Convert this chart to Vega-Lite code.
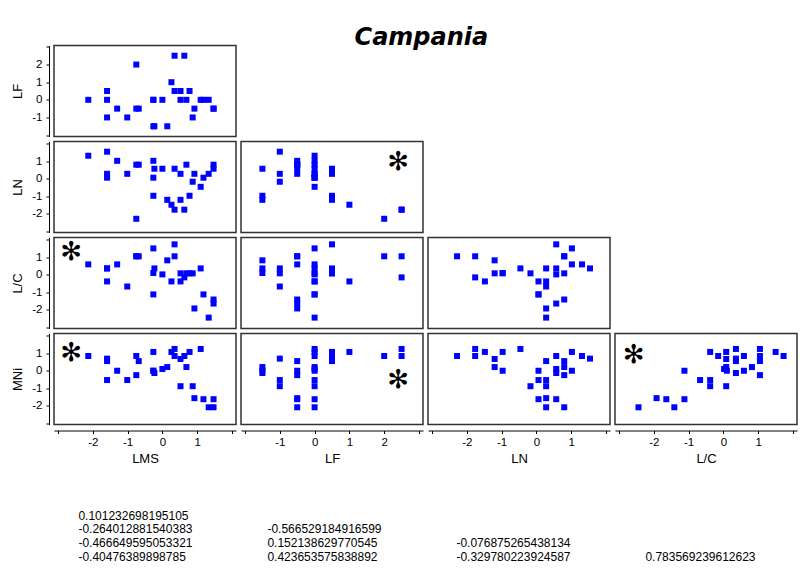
{
  "$schema": "https://vega.github.io/schema/vega-lite/v6.json",
  "background": "white",
  "padding": {"left": 11, "top": 25.5, "right": 2, "bottom": 2},
  "title": {"text": "Campania", "font": "DejaVu Sans", "fontSize": 24, "fontStyle": "italic", "fontWeight": "bold", "color": "#000", "anchor": "middle", "offset": -5.5, "dx": 17},
  "datasets": {
    "obs": [
      {"LMS": -2.13, "LF": 0, "LN": 1.31, "LC": 0.59, "MNi": 0.84},
      {"LMS": -1.59, "LF": -1, "LN": 1.54, "LC": 0.36, "MNi": 0.69},
      {"LMS": -1.59, "LF": 0.5, "LN": 0.28, "LC": 0.36, "MNi": 0.55},
      {"LMS": -1.59, "LF": 0, "LN": 0.06, "LC": -0.38, "MNi": -0.53},
      {"LMS": -1.30, "LF": -0.5, "LN": 1.02, "LC": 0.59, "MNi": 0},
      {"LMS": -1.01, "LF": -1, "LN": 0.28, "LC": -0.67, "MNi": -0.53},
      {"LMS": -0.75, "LF": 2, "LN": -2.28, "LC": 1.05, "MNi": 0.84},
      {"LMS": -0.75, "LF": -0.5, "LN": 0.8, "LC": 1.05, "MNi": -0.25},
      {"LMS": -0.68, "LF": -0.5, "LN": 0.8, "LC": 1.05, "MNi": 0.55},
      {"LMS": -0.26, "LF": 0, "LN": 1.02, "LC": 1.5, "MNi": 1.07},
      {"LMS": -0.26, "LF": 0, "LN": 0.06, "LC": -1.12, "MNi": 0},
      {"LMS": -0.23, "LF": -1.5, "LN": 0.57, "LC": 0.36, "MNi": -0.13},
      {"LMS": -0.26, "LF": -1.5, "LN": -0.97, "LC": 0.1, "MNi": 0},
      {"LMS": 0, "LF": 0, "LN": 0.57, "LC": 0.02, "MNi": 0.1},
      {"LMS": 0.14, "LF": -1.5, "LN": -1.2, "LC": 0.82, "MNi": 0.21},
      {"LMS": 0.26, "LF": 1, "LN": -1.48, "LC": -0.38, "MNi": 1.07},
      {"LMS": 0.35, "LF": 2.5, "LN": -1.76, "LC": 1.05, "MNi": 1.24},
      {"LMS": 0.35, "LF": 0.5, "LN": 0.57, "LC": 1.73, "MNi": 0.84},
      {"LMS": 0.52, "LF": 0.5, "LN": -1.2, "LC": 0.08, "MNi": 0.67},
      {"LMS": 0.52, "LF": 0, "LN": 0.28, "LC": -0.38, "MNi": -0.88},
      {"LMS": 0.63, "LF": 2.5, "LN": -1.76, "LC": -0.15, "MNi": 0.84},
      {"LMS": 0.69, "LF": 0, "LN": 0.8, "LC": 0.08, "MNi": 0.21},
      {"LMS": 0.78, "LF": 0.5, "LN": -0.97, "LC": 0.08, "MNi": 1.07},
      {"LMS": 0.87, "LF": -1, "LN": -0.17, "LC": 0.08, "MNi": -0.88},
      {"LMS": 0.92, "LF": -0.5, "LN": 0.28, "LC": -1.92, "MNi": -1.56},
      {"LMS": 1.10, "LF": 0, "LN": -0.46, "LC": 0.36, "MNi": 1.24},
      {"LMS": 1.18, "LF": 0, "LN": 0.06, "LC": -1.12, "MNi": -1.62},
      {"LMS": 1.33, "LF": 0, "LN": 0.28, "LC": -2.44, "MNi": -2.08},
      {"LMS": 1.47, "LF": -0.5, "LN": 0.57, "LC": -1.64, "MNi": -1.62},
      {"LMS": 1.47, "LF": -0.5, "LN": 0.8, "LC": -1.41, "MNi": -2.08}
    ],
    "stars": [
      {"pair": "LN-LF", "sx": 2.4, "sy": 0.95},
      {"pair": "LC-LMS", "sx": -2.62, "sy": 1.29},
      {"pair": "MNi-LMS", "sx": -2.62, "sy": 1.0},
      {"pair": "MNi-LF", "sx": 2.4, "sy": -0.51},
      {"pair": "MNi-LC", "sx": -2.58, "sy": 0.91}
    ],
    "corr": [
      {"col": 1, "row": 1, "r": "0.101232698195105"},
      {"col": 1, "row": 2, "r": "-0.264012881540383"},
      {"col": 1, "row": 3, "r": "-0.466649595053321"},
      {"col": 1, "row": 4, "r": "-0.40476389898785"},
      {"col": 2, "row": 2, "r": "-0.566529184916599"},
      {"col": 2, "row": 3, "r": "0.152138629770545"},
      {"col": 2, "row": 4, "r": "0.423653575838892"},
      {"col": 3, "row": 3, "r": "-0.076875265438134"},
      {"col": 3, "row": 4, "r": "-0.329780223924587"},
      {"col": 4, "row": 4, "r": "0.783569239612623"}
    ]
  },
  "vconcat": [
    {
      "spacing": 3,
      "vconcat": [
        {"spacing": 3, "hconcat": [
          {"width": 182, "height": 91, "data": {"name": "obs"},
           "mark": {"type": "square", "size": 36, "color": "#0000ff", "opacity": 1},
           "encoding": {
             "x": {"field": "LMS", "type": "quantitative", "scale": {"domain": [-3.115, 2.115], "nice": false, "zero": false}, "axis": null},
             "y": {"field": "LF", "type": "quantitative", "scale": {"domain": [-2.08, 3.08], "nice": false, "zero": false},
                   "axis": {"title": "LF", "values": [-2, -1, 0, 1, 2, 3], "labelOverlap": false, "labelExpr": "datum.value < -1.5 || datum.value > 2.5 ? '' : '' + datum.value", "labelFontSize": {"condition": {"test": "datum.value < -1.5 || datum.value > 2.5", "value": 0}, "value": 11.5}}}
           }}
        ]},
        {"spacing": 3, "hconcat": [
          {"width": 182, "height": 91, "data": {"name": "obs"},
           "mark": {"type": "square", "size": 36, "color": "#0000ff", "opacity": 1},
           "encoding": {
             "x": {"field": "LMS", "type": "quantitative", "scale": {"domain": [-3.115, 2.115], "nice": false, "zero": false}, "axis": null},
             "y": {"field": "LN", "type": "quantitative", "scale": {"domain": [-3.06, 2.12], "nice": false, "zero": false},
                   "axis": {"title": "LN", "values": [-3, -2, -1, 0, 1, 2], "labelOverlap": false, "labelExpr": "datum.value < -2.5 || datum.value > 1.5 ? '' : '' + datum.value", "labelFontSize": {"condition": {"test": "datum.value < -2.5 || datum.value > 1.5", "value": 0}, "value": 11.5}}}
           }},
          {"width": 182, "height": 91,
           "layer": [
             {"data": {"name": "obs"},
              "mark": {"type": "square", "size": 36, "color": "#0000ff", "opacity": 1},
              "encoding": {
                "x": {"field": "LF", "type": "quantitative", "scale": {"domain": [-2.115, 3.115], "nice": false, "zero": false}, "axis": null},
                "y": {"field": "LN", "type": "quantitative", "scale": {"domain": [-3.06, 2.12], "nice": false, "zero": false}, "axis": null}
              }},
             {"data": {"name": "stars"}, "transform": [{"filter": "datum.pair === 'LN-LF'"}],
              "mark": {"type": "text", "text": "✻", "font": "DejaVu Sans", "fontSize": 26, "color": "#000", "baseline": "middle", "align": "center"},
              "encoding": {
                "x": {"field": "sx", "type": "quantitative", "axis": null},
                "y": {"field": "sy", "type": "quantitative", "axis": null}
              }}
           ]}
        ]},
        {"spacing": 3, "hconcat": [
          {"width": 182, "height": 91,
           "layer": [
             {"data": {"name": "obs"},
              "mark": {"type": "square", "size": 36, "color": "#0000ff", "opacity": 1},
              "encoding": {
                "x": {"field": "LMS", "type": "quantitative", "scale": {"domain": [-3.115, 2.115], "nice": false, "zero": false}, "axis": null},
                "y": {"field": "LC", "type": "quantitative", "scale": {"domain": [-3.06, 2.12], "nice": false, "zero": false},
                      "axis": {"title": "L/C", "values": [-3, -2, -1, 0, 1, 2], "labelOverlap": false, "labelExpr": "datum.value < -2.5 || datum.value > 1.5 ? '' : '' + datum.value", "labelFontSize": {"condition": {"test": "datum.value < -2.5 || datum.value > 1.5", "value": 0}, "value": 11.5}}}
              }},
             {"data": {"name": "stars"}, "transform": [{"filter": "datum.pair === 'LC-LMS'"}],
              "mark": {"type": "text", "text": "✻", "font": "DejaVu Sans", "fontSize": 26, "color": "#000", "baseline": "middle", "align": "center"},
              "encoding": {
                "x": {"field": "sx", "type": "quantitative", "axis": null},
                "y": {"field": "sy", "type": "quantitative",
                      "axis": {"title": "L/C", "values": [-3, -2, -1, 0, 1, 2], "labelOverlap": false, "labelExpr": "datum.value < -2.5 || datum.value > 1.5 ? '' : '' + datum.value", "labelFontSize": {"condition": {"test": "datum.value < -2.5 || datum.value > 1.5", "value": 0}, "value": 11.5}}}
              }}
           ]},
          {"width": 182, "height": 91, "data": {"name": "obs"},
           "mark": {"type": "square", "size": 36, "color": "#0000ff", "opacity": 1},
           "encoding": {
             "x": {"field": "LF", "type": "quantitative", "scale": {"domain": [-2.115, 3.115], "nice": false, "zero": false}, "axis": null},
             "y": {"field": "LC", "type": "quantitative", "scale": {"domain": [-3.06, 2.12], "nice": false, "zero": false}, "axis": null}
           }},
          {"width": 182, "height": 91, "data": {"name": "obs"},
           "mark": {"type": "square", "size": 36, "color": "#0000ff", "opacity": 1},
           "encoding": {
             "x": {"field": "LN", "type": "quantitative", "scale": {"domain": [-3.115, 2.115], "nice": false, "zero": false}, "axis": null},
             "y": {"field": "LC", "type": "quantitative", "scale": {"domain": [-3.06, 2.12], "nice": false, "zero": false}, "axis": null}
           }}
        ]},
        {"spacing": 3, "hconcat": [
          {"width": 182, "height": 91,
           "layer": [
             {"data": {"name": "obs"},
              "mark": {"type": "square", "size": 36, "color": "#0000ff", "opacity": 1},
              "encoding": {
                "x": {"field": "LMS", "type": "quantitative", "scale": {"domain": [-3.115, 2.115], "nice": false, "zero": false},
                      "axis": {"title": "LMS", "values": [-3, -2, -1, 0, 1, 2], "labelOverlap": false, "labelExpr": "datum.value < -2.5 || datum.value > 1.5 ? '' : '' + datum.value", "labelFontSize": {"condition": {"test": "datum.value < -2.5 || datum.value > 1.5", "value": 0}, "value": 11.5}}},
                "y": {"field": "MNi", "type": "quantitative", "scale": {"domain": [-3.06, 2.12], "nice": false, "zero": false},
                      "axis": {"title": "MNi", "values": [-3, -2, -1, 0, 1, 2], "labelOverlap": false, "labelExpr": "datum.value < -2.5 || datum.value > 1.5 ? '' : '' + datum.value", "labelFontSize": {"condition": {"test": "datum.value < -2.5 || datum.value > 1.5", "value": 0}, "value": 11.5}}}
              }},
             {"data": {"name": "stars"}, "transform": [{"filter": "datum.pair === 'MNi-LMS'"}],
              "mark": {"type": "text", "text": "✻", "font": "DejaVu Sans", "fontSize": 26, "color": "#000", "baseline": "middle", "align": "center"},
              "encoding": {
                "x": {"field": "sx", "type": "quantitative",
                      "axis": {"title": "LMS", "values": [-3, -2, -1, 0, 1, 2], "labelOverlap": false, "labelExpr": "datum.value < -2.5 || datum.value > 1.5 ? '' : '' + datum.value", "labelFontSize": {"condition": {"test": "datum.value < -2.5 || datum.value > 1.5", "value": 0}, "value": 11.5}}},
                "y": {"field": "sy", "type": "quantitative",
                      "axis": {"title": "MNi", "values": [-3, -2, -1, 0, 1, 2], "labelOverlap": false, "labelExpr": "datum.value < -2.5 || datum.value > 1.5 ? '' : '' + datum.value", "labelFontSize": {"condition": {"test": "datum.value < -2.5 || datum.value > 1.5", "value": 0}, "value": 11.5}}}
              }}
           ]},
          {"width": 182, "height": 91,
           "layer": [
             {"data": {"name": "obs"},
              "mark": {"type": "square", "size": 36, "color": "#0000ff", "opacity": 1},
              "encoding": {
                "x": {"field": "LF", "type": "quantitative", "scale": {"domain": [-2.115, 3.115], "nice": false, "zero": false},
                      "axis": {"title": "LF", "values": [-2, -1, 0, 1, 2, 3], "labelOverlap": false, "labelExpr": "datum.value < -1.5 || datum.value > 2.5 ? '' : '' + datum.value", "labelFontSize": {"condition": {"test": "datum.value < -1.5 || datum.value > 2.5", "value": 0}, "value": 11.5}}},
                "y": {"field": "MNi", "type": "quantitative", "scale": {"domain": [-3.06, 2.12], "nice": false, "zero": false}, "axis": null}
              }},
             {"data": {"name": "stars"}, "transform": [{"filter": "datum.pair === 'MNi-LF'"}],
              "mark": {"type": "text", "text": "✻", "font": "DejaVu Sans", "fontSize": 26, "color": "#000", "baseline": "middle", "align": "center"},
              "encoding": {
                "x": {"field": "sx", "type": "quantitative",
                      "axis": {"title": "LF", "values": [-2, -1, 0, 1, 2, 3], "labelOverlap": false, "labelExpr": "datum.value < -1.5 || datum.value > 2.5 ? '' : '' + datum.value", "labelFontSize": {"condition": {"test": "datum.value < -1.5 || datum.value > 2.5", "value": 0}, "value": 11.5}}},
                "y": {"field": "sy", "type": "quantitative", "axis": null}
              }}
           ]},
          {"width": 182, "height": 91, "data": {"name": "obs"},
           "mark": {"type": "square", "size": 36, "color": "#0000ff", "opacity": 1},
           "encoding": {
             "x": {"field": "LN", "type": "quantitative", "scale": {"domain": [-3.115, 2.115], "nice": false, "zero": false},
                   "axis": {"title": "LN", "values": [-3, -2, -1, 0, 1, 2], "labelOverlap": false, "labelExpr": "datum.value < -2.5 || datum.value > 1.5 ? '' : '' + datum.value", "labelFontSize": {"condition": {"test": "datum.value < -2.5 || datum.value > 1.5", "value": 0}, "value": 11.5}}},
             "y": {"field": "MNi", "type": "quantitative", "scale": {"domain": [-3.06, 2.12], "nice": false, "zero": false}, "axis": null}
           }},
          {"width": 182, "height": 91,
           "layer": [
             {"data": {"name": "obs"},
              "mark": {"type": "square", "size": 36, "color": "#0000ff", "opacity": 1},
              "encoding": {
                "x": {"field": "LC", "type": "quantitative", "scale": {"domain": [-3.115, 2.115], "nice": false, "zero": false},
                      "axis": {"title": "L/C", "values": [-3, -2, -1, 0, 1, 2], "labelOverlap": false, "labelExpr": "datum.value < -2.5 || datum.value > 1.5 ? '' : '' + datum.value", "labelFontSize": {"condition": {"test": "datum.value < -2.5 || datum.value > 1.5", "value": 0}, "value": 11.5}}},
                "y": {"field": "MNi", "type": "quantitative", "scale": {"domain": [-3.06, 2.12], "nice": false, "zero": false}, "axis": null}
              }},
             {"data": {"name": "stars"}, "transform": [{"filter": "datum.pair === 'MNi-LC'"}],
              "mark": {"type": "text", "text": "✻", "font": "DejaVu Sans", "fontSize": 26, "color": "#000", "baseline": "middle", "align": "center"},
              "encoding": {
                "x": {"field": "sx", "type": "quantitative",
                      "axis": {"title": "L/C", "values": [-3, -2, -1, 0, 1, 2], "labelOverlap": false, "labelExpr": "datum.value < -2.5 || datum.value > 1.5 ? '' : '' + datum.value", "labelFontSize": {"condition": {"test": "datum.value < -2.5 || datum.value > 1.5", "value": 0}, "value": 11.5}}},
                "y": {"field": "sy", "type": "quantitative", "axis": null}
              }}
           ]}
        ]}
      ]
    },
    {
      "width": 743, "height": 70, "data": {"name": "corr"},
      "view": {"stroke": null},
      "mark": {"type": "text", "align": "left", "baseline": "middle", "font": "Liberation Sans", "fontSize": 12, "color": "#000"},
      "encoding": {
        "x": {"field": "col", "type": "quantitative", "scale": {"domain": [0.871, 4.802], "nice": false, "zero": false}, "axis": null},
        "y": {"field": "row", "type": "quantitative", "scale": {"domain": [-1.126, 3.995], "nice": false, "zero": false, "reverse": true}, "axis": null},
        "text": {"field": "r", "type": "nominal"}
      }
    }
  ],
  "config": {
    "view": {"stroke": "#333333", "strokeWidth": 1.5},
    "axis": {"grid": false, "labelOverlap": false, "domainColor": "#000", "domainWidth": 1, "tickColor": "#000", "tickSize": 3, "labelColor": "#000", "labelFont": "Liberation Sans", "labelFontSize": 11.5, "titleFont": "Liberation Sans", "titleFontSize": 13, "titleFontWeight": "normal", "titleColor": "#000"},
    "axisX": {"offset": 6, "labelPadding": 3, "titlePadding": 4},
    "axisY": {"offset": 5, "labelPadding": 4, "titlePadding": 7}
  }
}
